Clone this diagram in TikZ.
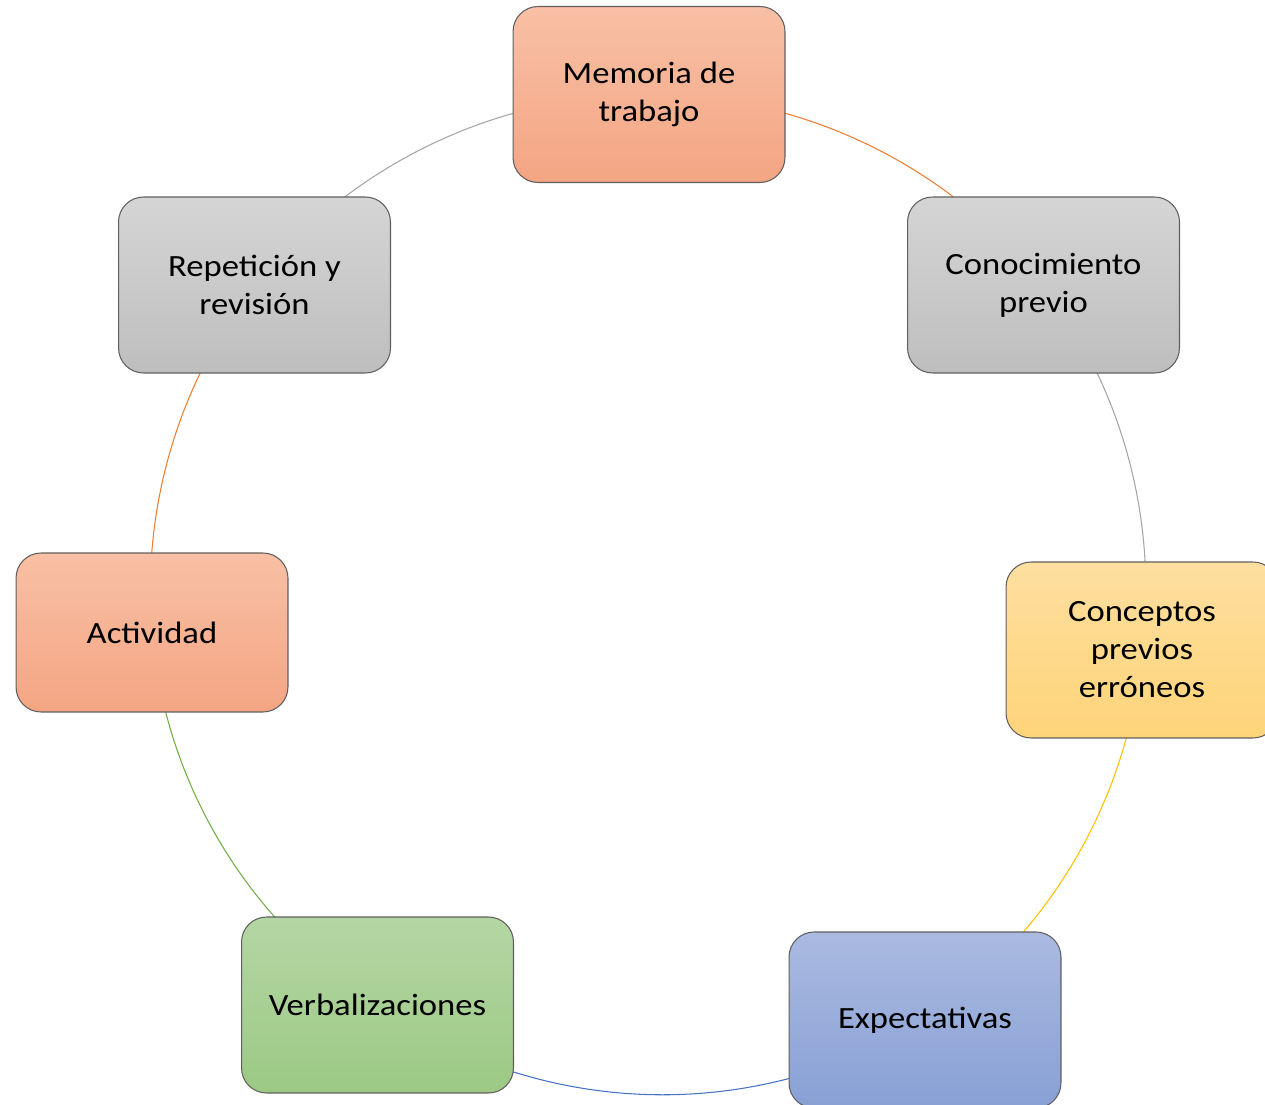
\documentclass[tikz,border=0pt]{standalone}
\usepackage{fontspec}
\setmainfont[FakeStretch=1.12]{Carlito}
\usetikzlibrary{backgrounds}

\begin{document}
\begin{tikzpicture}[x=0.02cm, y=0.02cm,
    block/.style={rectangle, rounded corners=0.5cm, draw=borderColour, line width=0.6pt,
        minimum width=5.44cm, minimum height=3.52cm, inner sep=0pt, align=center,
        font=\fontsize{17.6pt}{21.6pt}\selectfont},
    orangeBlock/.style={block, top color=orangeTop, bottom color=orangeBottom},
    greyBlock/.style={block, top color=greyTop, bottom color=greyBottom},
    yellowBlock/.style={block, top color=yellowTop, bottom color=yellowBottom},
    blueBlock/.style={block, top color=blueTop, bottom color=blueBottom},
    greenBlock/.style={block, top color=greenTop, bottom color=greenBottom},
    link/.style={line width=0.6pt}]
    % Define colours
    \definecolor{borderColour}{HTML}{5F5F5F}
    \definecolor{orangeTop}{HTML}{F8C0A5}
    \definecolor{orangeBottom}{HTML}{F4A583}
    \definecolor{greyTop}{HTML}{D5D5D5}
    \definecolor{greyBottom}{HTML}{BEBEBE}
    \definecolor{yellowTop}{HTML}{FEDFA0}
    \definecolor{yellowBottom}{HTML}{FED479}
    \definecolor{blueTop}{HTML}{AABAE1}
    \definecolor{blueBottom}{HTML}{88A0D5}
    \definecolor{greenTop}{HTML}{B4D6A4}
    \definecolor{greenBottom}{HTML}{9CC984}
    \definecolor{arcOrange}{HTML}{ED7D31}
    \definecolor{arcGrey}{HTML}{A5A5A5}
    \definecolor{arcYellow}{HTML}{FFC000}
    \definecolor{arcBlue}{HTML}{4472C4}
    \definecolor{arcGreen}{HTML}{70AD47}

    % Page size
    \useasboundingbox (0,0) rectangle (1265,-1105);

    % Draw the boxes of the cycle
    \node[orangeBlock] (memoria) at (649,-94.5) {Memoria de\\trabajo};
    \node[greyBlock] (conocimiento) at (1043.5,-285) {Conocimiento\\previo};
    \node[yellowBlock] (conceptos) at (1142,-650) {Conceptos\\previos\\erróneos};
    \node[blueBlock] (expectativas) at (925,-1020) {Expectativas};
    \node[greenBlock] (verbal) at (377.5,-1005) {Verbalizaciones};
    \node[orangeBlock, minimum height=3.18cm] (actividad) at (152,-632.5) {Actividad};
    \node[greyBlock] (repeticion) at (254.5,-285) {Repetición y\\revisión};

    % Draw the arcs between the boxes, behind them
    \begin{pgfonlayer}{background}
    \foreach \src/\dst/\col/\bend in {memoria/conocimiento/arcOrange/25.8,
            conocimiento/conceptos/arcGrey/22.2,
            conceptos/expectativas/arcYellow/25.4,
            expectativas/verbal/arcBlue/33.4,
            verbal/actividad/arcGreen/26.1,
            actividad/repeticion/arcOrange/21.2,
            repeticion/memoria/arcGrey/25.7}{
        \pgfmathsetmacro\loose{2*tan(\bend/2)/(3*sin(\bend)*0.3915)}
        \draw[link, \col] (\src.center) to[bend left=\bend, looseness=\loose] (\dst.center);
    }
    \end{pgfonlayer}

\end{tikzpicture}
\end{document}
